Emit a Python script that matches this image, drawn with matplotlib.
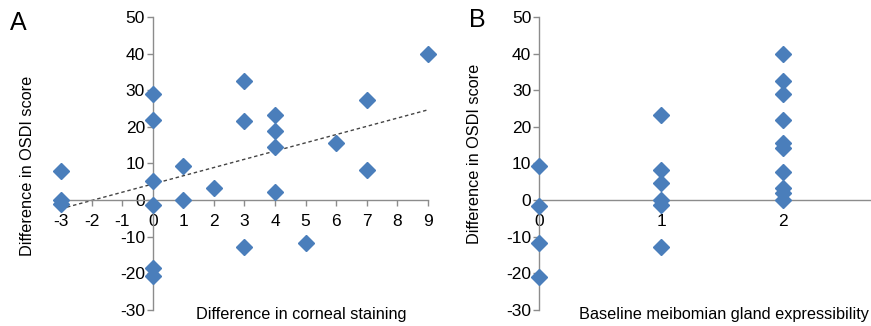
import numpy as np
from matplotlib import pyplot as plt

plt.rcParams['font.family'] = ['Liberation Sans', 'DejaVu Sans']
plt.rcParams['axes.unicode_minus'] = False

# panel A: difference in corneal staining vs difference in OSDI
a_x = [-3, -3, -3, 0, 0, 0, 0, 0, 0, 1, 1, 2, 3, 3, 3, 4, 4, 4, 4, 5, 6, 7, 7, 9]
a_y = [8, 0, -1, 29, 22, 5.2, -1.4, -18.5, -20.8, 9.4, 0, 3.2, 32.6, 21.7, -12.7,
       23.3, 18.9, 14.5, 2.2, -11.6, 15.6, 27.3, 8.3, 40]
trend_slope = 2.25
trend_icpt = 4.4

# panel B: baseline meibomian gland expressibility vs difference in OSDI
b_x = [0, 0, 0, 0, 1, 1, 1, 1, 1, 1, 2, 2, 2, 2, 2, 2, 2, 2, 2, 2]
b_y = [9.3, -1.5, -11.8, -21, 23.2, 8.1, 4.8, 0, -1.3, -12.9,
       40, 32.5, 28.9, 21.8, 15.5, 14.1, 7.8, 3.2, 2.0, 0]

yticks = np.arange(-30, 51, 10)
blue = '#4a7ebb'
grey = '#8c8c8c'

fig = plt.figure(figsize=(8.71, 3.26), dpi=100)
axA = fig.add_axes([0.070, 0.049, 0.4214, 0.899])
axB = fig.add_axes([0.6188, 0.049, 0.380, 0.899])


def style(ax, xt):
    ax.spines['top'].set_visible(False)
    ax.spines['right'].set_visible(False)
    ax.spines['left'].set_position(('data', 0))
    ax.spines['bottom'].set_position(('data', 0))
    for s in ('left', 'bottom'):
        ax.spines[s].set_color(grey)
        ax.spines[s].set_linewidth(1.0)
    ax.set_ylim(-30, 50)
    ax.set_yticks(yticks)
    ax.set_xticks(xt)
    ax.tick_params(axis='both', color=grey, length=4, width=1,
                   labelsize=12.5, labelcolor='black', pad=1.5)
    ax.tick_params(axis='x', pad=6)
    ax.set_facecolor('none')


style(axA, np.arange(-3, 10, 1))
axA.set_xlim(-3, 9)
xs = np.array([-3, 9])
axA.plot(xs, trend_slope * xs + trend_icpt, ls=(0, (2.5, 2)), color='#444444', lw=1.0)
axA.plot(a_x, a_y, 'D', color=blue, ms=8.5, clip_on=False, zorder=5)

style(axB, [0, 1, 2])
axB.set_xlim(0, 2.71)
axB.plot(b_x, b_y, 'D', color=blue, ms=8.5, clip_on=False, zorder=5)

fig.text(0.012, 0.908, 'A', fontsize=18)
fig.text(0.539, 0.917, 'B', fontsize=18)
fig.text(0.031, 0.49, 'Difference in OSDI score', rotation=90, fontsize=11.7,
         ha='center', va='center')
fig.text(0.545, 0.527, 'Difference in OSDI score', rotation=90, fontsize=11.7,
         ha='center', va='center')
fig.text(0.346, 0.034, 'Difference in corneal staining', fontsize=11.7,
         ha='center', va='center')
fig.text(0.831, 0.034, 'Baseline meibomian gland expressibility', fontsize=11.7,
         ha='center', va='center')

fig.savefig('out.png', dpi=100)
